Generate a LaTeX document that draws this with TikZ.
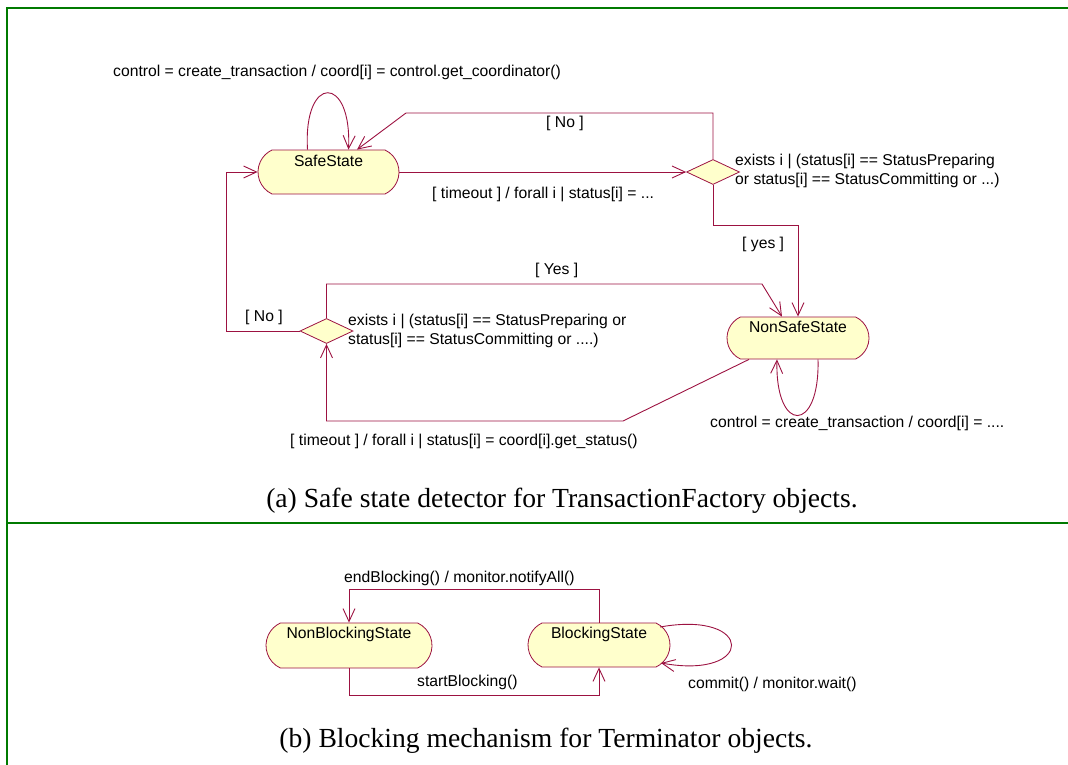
\documentclass[tikz,border=0pt]{standalone}
\usepackage{fontspec}
\usetikzlibrary{shapes.geometric,shapes.misc,arrows.meta}
\newfontfamily\lbfam{Liberation Sans}
\newfontfamily\capfam{Liberation Serif}
\definecolor{lc}{HTML}{9C1241}
\definecolor{fillc}{HTML}{FFFFCC}
\definecolor{frc}{HTML}{007A00}
\tikzset{
  stbox/.style={rounded rectangle, rounded rectangle arc length=130, draw=lc, fill=fillc, line width=0.8pt, minimum height=44pt, inner sep=0pt},
  dec/.style={diamond, draw=lc, fill=fillc, line width=0.8pt, minimum width=53pt, minimum height=25pt, inner sep=0pt},
  tr/.style={draw=lc, line width=0.9pt, -{Straight Barb[length=13pt,width=12pt]}},
  lbl/.style={font=\lbfam\fontsize{15.7}{19}\selectfont, inner sep=0pt, anchor=base west},
  nm/.style={font=\lbfam\fontsize{15.7}{19}\selectfont, inner sep=0pt, anchor=base},
  captxt/.style={font=\capfam\fontsize{27.6}{32}\selectfont, inner sep=0pt, anchor=base},
  frm/.style={draw=frc, line width=2pt}
}
\begin{document}
\begin{tikzpicture}[x=1pt,y=-1pt]
\useasboundingbox (0,0) rectangle (1068,765);
% frame
\coordinate (fTL) at (7,8);
\coordinate (fTR) at (1068,8);
\coordinate (fBL) at (7,765);
\coordinate (fML) at (7,523);
\coordinate (fMR) at (1068,523);
\draw[frm] (fBL) -- (fTL) -- (fTR);
\draw[frm] (fML) -- (fMR);

% ---------- part (a)
\node[stbox, minimum width=141pt] (safe) at (328.5,172) {};
\node[nm] (safeN) at (328.5,166) {SafeState};
\node[dec] (d1) at (713,172) {};
\node[stbox, minimum width=142pt, minimum height=42pt] (nonsafe) at (798,338) {};
\node[nm] (nonsafeN) at (798,332) {NonSafeState};
\node[dec] (d2) at (326.5,331) {};

% self loop SafeState
\draw[tr] ([xshift=-21pt]safe.north) .. controls (303,74) and (352,74) .. ([xshift=20pt]safe.north);
\node[lbl] (l1) at (113,77) {control = create\_transaction / coord[i] = control.get\_coordinator()};

% d1 -> safe [No]
\draw[tr] (d1.north) -- (713,113) -- (406,113) -- ([xshift=28.5pt]safe.north);
\node[lbl] (l2) at (546,128) {[ No ]};

% safe -> d1
\draw[tr] (safe.east) -- (d1.west);
\node[lbl] (l3) at (432,198) {[ timeout ] / forall i | status[i] = ...};

\node[lbl, align=left, anchor=north west] (l4) at (735,154) {exists i | (status[i] == StatusPreparing\\or status[i] == StatusCommitting or ...)};

% d1 -> nonsafe [yes]
\draw[tr] (d1.south) -- (713,225) -- (798,225) -- (nonsafe.north);
\node[lbl] (l5) at (742,248) {[ yes ]};

% d2 -> nonsafe [Yes]
\draw[tr] (d2.north) -- (326.5,284) -- (762,284) -- ([xshift=-16pt]nonsafe.north);
\node[lbl] (l6) at (535,274) {[ Yes ]};

\node[lbl, align=left, anchor=north west] (l7) at (348,314) {exists i | (status[i] == StatusPreparing or\\status[i] == StatusCommitting or ....)};

% d2 -> safe [No]
\draw[tr] (d2.west) -- (226,331) -- (226,172) -- (safe.west);
\node[lbl] (l8) at (245,321) {[ No ]};

% nonsafe -> d2
\draw[tr] ([xshift=-49pt]nonsafe.south) -- (623,421) -- (326.5,421) -- (d2.south);
\node[lbl] (l9) at (290,445) {[ timeout ] / forall i | status[i] = coord[i].get\_status()};

% nonsafe self loop
\draw[tr] ([xshift=20pt]nonsafe.south) .. controls (820,434) and (775,434) .. ([xshift=-21pt]nonsafe.south);
\node[lbl] (l10) at (710,427) {control = create\_transaction / coord[i] = ....};

\node[captxt] (capA) at (562,507) {(a) Safe state detector for TransactionFactory objects.};

% ---------- part (b)
\node[stbox, minimum width=166pt, minimum height=45pt] (nb) at (349,645.5) {};
\node[nm] (nbN) at (349,638) {NonBlockingState};
\node[stbox, minimum width=142pt] (bl) at (599,645) {};
\node[nm] (blN) at (599,638) {BlockingState};

\draw[tr] (bl.north) -- (599,589) -- (349,589) -- (nb.north);
\node[lbl] (l11) at (344,582) {endBlocking() / monitor.notifyAll()};

\draw[tr] (nb.south) -- (349,695) -- (599,695) -- (bl.south);
\node[lbl] (l12) at (417,686) {startBlocking()};

\draw[tr] ([shift={(61,-18)}]bl.center) .. controls (755,610) and (755,680) .. ([shift={(62,18)}]bl.center);
\node[lbl] (l13) at (688,688) {commit() / monitor.wait()};

\node[captxt] (capB) at (546,747) {(b) Blocking mechanism for Terminator objects.};
\end{tikzpicture}
\end{document}
